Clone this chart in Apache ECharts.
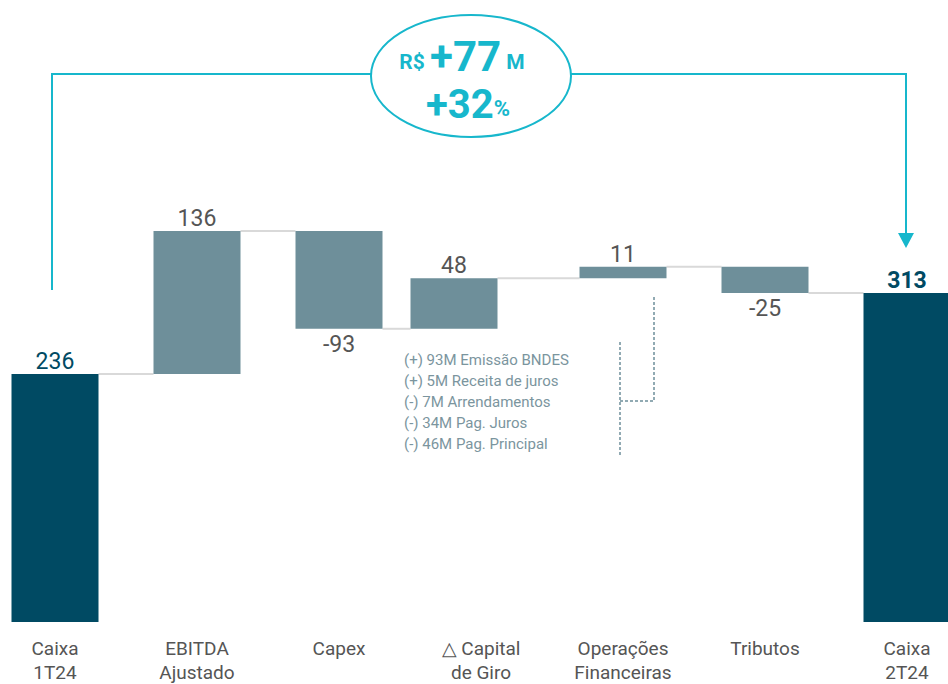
<!DOCTYPE html>
<html>
<head>
<meta charset="utf-8">
<script src="https://cdn.jsdelivr.net/npm/echarts@6/dist/echarts.min.js"></script>
<style>html,body{margin:0;padding:0;background:#fff;}#c{width:948px;height:684px;}</style>
</head>
<body>
<div id="c"></div>
<script>
// ---- data ----
const categories = ['Caixa\n1T24', 'EBITDA\nAjustado', 'Capex', '△ Capital\nde Giro', 'Operações\nFinanceiras', 'Tributos', 'Caixa\n2T24'];
const values = [236, 136, -93, 48, 11, -25, 313];
const isTotal = [true, false, false, false, false, false, true];
const noteLines = ['(+) 93M Emissão BNDES', '(+) 5M Receita de juros', '(-) 7M Arrendamentos', '(-) 34M Pag. Juros', '(-) 46M Pag. Principal'];
const deltaValue = '+77';
const deltaPct = '+32';

// ---- build waterfall ----
const cum = [];
const seriesData = [];
let run = 0;
values.forEach((v, i) => {
  let lo, hi;
  if (isTotal[i]) { lo = 0; hi = v; run = v; }
  else { const start = run; run = run + v; lo = Math.min(start, run); hi = Math.max(start, run); }
  cum.push(run);
  seriesData.push([i, lo, hi, v, isTotal[i] ? 1 : 0]);
});

const FONT = 'Roboto';
const DARK = '#004a63';
const MID = '#6e8f9a';
const CYAN = '#17b7cc';
const BW = 87;
function shiftOf(i) { return i === 3 ? -27 : 0; }

function renderItem(params, api) {
  const i = api.value(0), lo = api.value(1), hi = api.value(2), v = api.value(3), tot = api.value(4);
  const pTop = api.coord([i, hi]);
  const pBot = api.coord([i, lo]);
  const cx = pTop[0] + shiftOf(i);
  const x = cx - BW / 2;
  const children = [];
  if (i < categories.length - 1) {
    const nxt = api.coord([i + 1, cum[i]]);
    const nx = nxt[0] + shiftOf(i + 1) - BW / 2;
    children.push({ type: 'line', shape: { x1: x + BW, y1: nxt[1], x2: nx, y2: nxt[1] },
      style: { stroke: '#d9d9d9', lineWidth: 2 } });
  }
  children.push({ type: 'rect', shape: { x: x, y: pTop[1], width: BW, height: pBot[1] - pTop[1] },
    style: { fill: tot ? DARK : MID } });
  const above = v >= 0;
  children.push({ type: 'text', style: {
    text: String(v), x: cx, y: above ? pTop[1] - 1 : pBot[1] + 4,
    align: 'center', verticalAlign: above ? 'bottom' : 'top',
    fontFamily: FONT, fontSize: 23, fontWeight: (i === categories.length - 1) ? 'bold' : 'normal',
    fill: tot ? DARK : '#555555' } });
  return { type: 'group', children: children };
}

const chart = echarts.init(document.getElementById('c'), null, { renderer: 'svg' });
chart.setOption({
  animation: false,
  grid: { left: 55, right: 41, top: 201.6, bottom: 62 },
  xAxis: {
    type: 'category', data: categories, boundaryGap: false,
    axisLine: { show: false }, axisTick: { show: false },
    axisLabel: { fontFamily: FONT, fontSize: 19, lineHeight: 24, color: '#555555', margin: 14, interval: 0 }
  },
  yAxis: { type: 'value', min: 0, max: 400, show: false, splitLine: { show: false } },
  series: [{ type: 'custom', renderItem: renderItem, data: seriesData, clip: false }],
  graphic: [
    { type: 'polyline', shape: { points: [[52, 290], [52, 74], [372, 74]] }, style: { stroke: CYAN, lineWidth: 2, fill: null } },
    { type: 'polyline', shape: { points: [[571, 74], [906, 74], [906, 236]] }, style: { stroke: CYAN, lineWidth: 2, fill: null } },
    { type: 'polygon', shape: { points: [[898, 233], [914, 233], [906, 248]] }, style: { fill: CYAN } },
    { type: 'ellipse', shape: { cx: 471, cy: 76, rx: 100, ry: 61 }, style: { stroke: CYAN, lineWidth: 2, fill: null } },
    { type: 'text', x: 462, y: 56, style: {
      text: '{s|R$ }{b|' + deltaValue + '}{s| M}', align: 'center', verticalAlign: 'middle',
      rich: {
        s: { fontFamily: FONT, fontSize: 21, lineHeight: 30, fontWeight: 'bold', fill: CYAN, verticalAlign: 'bottom', padding: [0, 0, 1, 0] },
        b: { fontFamily: FONT, fontSize: 42, lineHeight: 34, fontWeight: 'bold', fill: CYAN }
      } } },
    { type: 'text', x: 468, y: 104, style: {
      text: '{b|' + deltaPct + '}{s|%}', align: 'center', verticalAlign: 'middle',
      rich: {
        s: { fontFamily: FONT, fontSize: 22, lineHeight: 28, fontWeight: 'bold', fill: CYAN, verticalAlign: 'bottom', padding: [0, 0, 1, 0] },
        b: { fontFamily: FONT, fontSize: 40, lineHeight: 32, fontWeight: 'bold', fill: CYAN }
      } } },
    { type: 'text', x: 404, y: 349, style: {
      text: noteLines.join('\n'), fontFamily: FONT, fontSize: 15, lineHeight: 21, fill: '#7b959e' } },
    { type: 'polyline', shape: { points: [[654, 297], [654, 401], [620, 401]] }, style: { stroke: MID, lineWidth: 1.5, lineDash: [3, 2], fill: null } },
    { type: 'line', shape: { x1: 620, y1: 342, x2: 620, y2: 456 }, style: { stroke: MID, lineWidth: 1.5, lineDash: [3, 2] } }
  ]
});
</script>
</body>
</html>
